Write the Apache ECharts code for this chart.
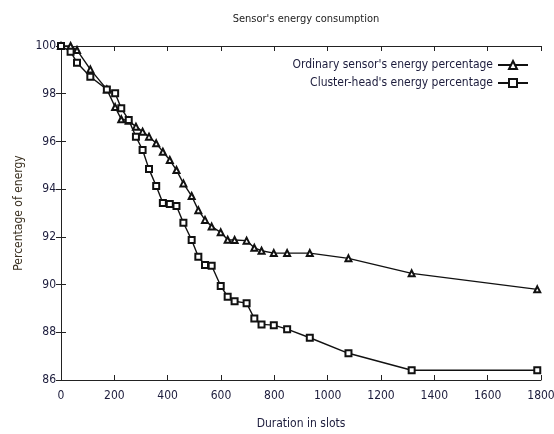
<!DOCTYPE html>
<html><head><meta charset="utf-8">
<script src="https://cdn.jsdelivr.net/npm/echarts@6/dist/echarts.min.js"></script>
<style>html,body{margin:0;padding:0;background:#fff}#c{width:554px;height:434px}</style>
</head><body><div id="c"></div>
<script>
const titleText = "Sensor's energy consumption";
const xName = "Duration in slots";
const yName = "Percentage of energy";
const seriesNames = ["Ordinary sensor's energy percentage", "Cluster-head's energy percentage"];
const slots = [0,36,60,110,172,203,226,254,281,306,330,357,382,408,433,459,490,515,540,565,599,625,651,696,725,752,798,848,933,1078,1315,1786];
const ordinary = [100,100,99.83,99.02,98.18,97.44,96.93,96.87,96.62,96.41,96.20,95.92,95.57,95.22,94.80,94.24,93.71,93.12,92.71,92.43,92.19,91.88,91.87,91.84,91.54,91.42,91.32,91.32,91.32,91.10,90.47,89.80];
const clusterHead = [100,99.76,99.30,98.71,98.18,98.02,97.39,96.90,96.20,95.64,94.84,94.13,93.42,93.38,93.29,92.59,91.87,91.17,90.82,90.79,89.94,89.49,89.30,89.22,88.58,88.33,88.30,88.13,87.77,87.12,86.41,86.41];
const xTicks = {min:0, max:1800, interval:200};
const yTicks = {min:86, max:100, interval:2};

const FONT = "DejaVu Sans Condensed";
const TXT = "#1c1c3c";
const pair = (xs, ys) => xs.map((x,i)=>[x, ys[i]]);
const chart = echarts.init(document.getElementById('c'), null, {renderer:'canvas'});
const axisBase = {
  axisLine:{show:true, lineStyle:{color:'#222', width:1}},
  axisTick:{show:true, inside:true, length:5, lineStyle:{color:'#222'}},
  splitLine:{show:false}
};
chart.setOption({
  animation:false,
  backgroundColor:'#fff',
  title:{text:titleText, left:301, textAlign:'center', top:9,
    textStyle:{fontFamily:FONT, fontSize:11, fontWeight:'normal', color:'#222'}},
  grid:{left:61, right:13, top:46, bottom:54, containLabel:false, outerBoundsMode:'none'},
  legend:{orient:'vertical', right:20, top:54, align:'right', itemWidth:30, itemHeight:10, itemGap:6,
    textStyle:{fontFamily:FONT, fontSize:12, color:TXT},
    data:seriesNames},
  xAxis:[
    Object.assign({type:'value', position:'bottom', min:xTicks.min, max:xTicks.max, interval:xTicks.interval,
      name:xName, nameLocation:'middle', nameGap:38,
      nameTextStyle:{fontFamily:FONT, fontSize:12, color:TXT},
      axisLabel:{fontFamily:FONT, fontSize:12, color:TXT, margin:10, formatter:v=>String(v)}}, axisBase),
    Object.assign({type:'value', position:'top', min:xTicks.min, max:xTicks.max, interval:xTicks.interval,
      axisLabel:{show:false}}, axisBase)
  ],
  yAxis:[
    Object.assign({type:'value', position:'left', min:yTicks.min, max:yTicks.max, interval:yTicks.interval,
      name:yName, nameLocation:'middle', nameGap:36,
      nameTextStyle:{fontFamily:FONT, fontSize:12, color:'#3a3020'},
      axisLabel:{fontFamily:FONT, fontSize:12, color:TXT, margin:5, formatter:v=>String(v)}}, axisBase),
    Object.assign({type:'value', position:'right', min:yTicks.min, max:yTicks.max, interval:yTicks.interval,
      axisLabel:{show:false}}, axisBase)
  ],
  series:[
    {name:seriesNames[0], type:'line', data:pair(slots, ordinary), symbol:'emptyTriangle', symbolSize:6,
      clip:false, lineStyle:{color:'#111', width:1.4}, itemStyle:{color:'#111', borderWidth:1.1}},
    {name:seriesNames[1], type:'line', data:pair(slots, clusterHead), symbol:'emptyRect', symbolSize:6,
      clip:false, lineStyle:{color:'#111', width:1.4}, itemStyle:{color:'#111', borderWidth:1.1}}
  ]
});
</script></body></html>
